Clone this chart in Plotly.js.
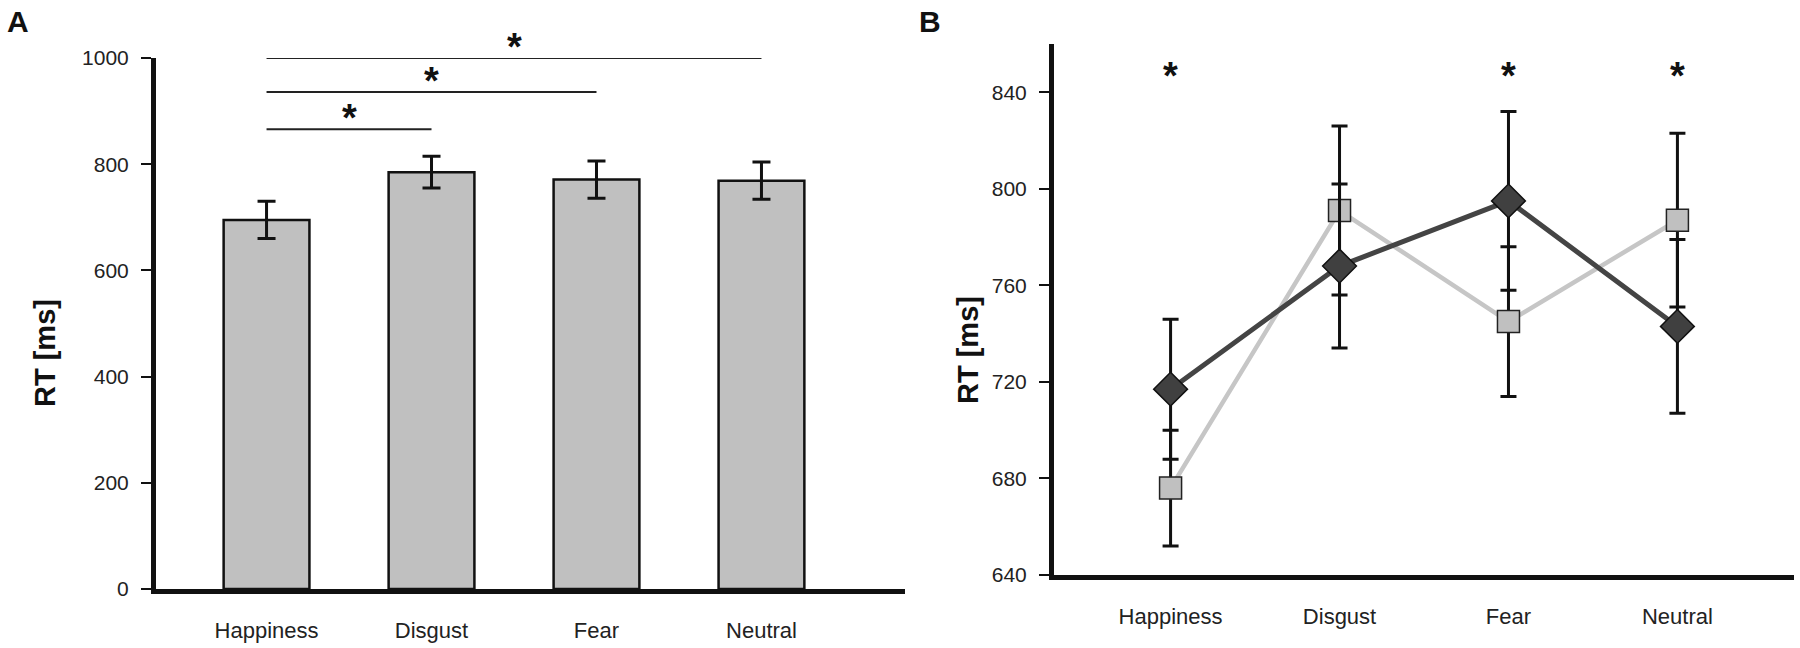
<!DOCTYPE html>
<html>
<head>
<meta charset="utf-8">
<script src="https://cdn.plot.ly/plotly-3.0.1.min.js"></script>
<style>
  html, body { margin: 0; padding: 0; background: #fff; }
  #chart { width: 1800px; height: 648px; }
</style>
</head>
<body>
<div id="chart"></div>
<script>
// Panel A: mean RT per emotion.
const categories = ["Happiness", "Disgust", "Fear", "Neutral"];
const rtMean = [695, 785, 771, 769];
const rtErr = [35, 30, 35, 35];

// Significant pairs in panel A (category index pairs) and bracket levels.
const sigPairs = [[0, 1], [0, 2], [0, 3]];
const sigLevels = [866, 936, 1000];

// Panel B: two conditions per emotion.
const darkMean = [717, 768, 795, 743];
const darkErr = [29, 34, 37, 36];
const lightMean = [676, 791, 745, 787];
const lightErr = [24, 35, 31, 36];
const sigB = ["Happiness", "Fear", "Neutral"];
const sigBLevel = 849;

const font = "Liberation Sans, Arial, sans-serif";

function drawChart() {
  const data = [];

  data.push({
    type: "bar",
    x: categories,
    y: rtMean,
    xaxis: "x",
    yaxis: "y",
    width: 0.52,
    marker: {color: "#c0c0c0", line: {color: "#111", width: 2.5}},
    error_y: {type: "data", array: rtErr, visible: true, color: "#111", thickness: 3, width: 9},
    hoverinfo: "skip"
  });

  // Light series first, so the dark line sits on top.
  data.push({
    type: "scatter",
    mode: "lines+markers",
    x: categories,
    y: lightMean,
    xaxis: "x2",
    yaxis: "y2",
    line: {color: "#c6c6c6", width: 4.5},
    marker: {symbol: "square", size: 22, color: "#c0c0c0", line: {color: "#222", width: 1.5}},
    error_y: {type: "data", array: lightErr, visible: true, color: "#111", thickness: 3, width: 8},
    cliponaxis: false,
    hoverinfo: "skip"
  });
  data.push({
    type: "scatter",
    mode: "lines+markers",
    x: categories,
    y: darkMean,
    xaxis: "x2",
    yaxis: "y2",
    line: {color: "#444444", width: 5},
    marker: {symbol: "diamond", size: 26, color: "#404040", line: {color: "#111", width: 1.5}},
    error_y: {type: "data", array: darkErr, visible: true, color: "#111", thickness: 3, width: 8},
    cliponaxis: false,
    hoverinfo: "skip"
  });

  const shapes = [];
  const annotations = [];

  for (var i = 0; i < sigPairs.length; i++) {
    shapes.push({
      type: "line", xref: "x", yref: "y",
      x0: sigPairs[i][0], x1: sigPairs[i][1],
      y0: sigLevels[i], y1: sigLevels[i],
      line: {color: "#222", width: 2}
    });
    annotations.push({
      xref: "x", yref: "y",
      x: (sigPairs[i][0] + sigPairs[i][1]) / 2, y: sigLevels[i],
      text: "<b>*</b>", showarrow: false, yanchor: "bottom", yshift: -12,
      font: {family: font, size: 38, color: "#111"}
    });
  }

  for (var j = 0; j < sigB.length; j++) {
    annotations.push({
      xref: "x2", yref: "y2",
      x: sigB[j], y: sigBLevel,
      text: "<b>*</b>", showarrow: false, yanchor: "middle", yshift: -5,
      font: {family: font, size: 38, color: "#111"}
    });
  }

  // Panel letters and axis titles.
  annotations.push({xref: "paper", yref: "paper", x: 18 / 1800, y: 1 - 21 / 648, text: "<b>A</b>",
    xanchor: "center", yanchor: "middle", showarrow: false, font: {family: font, size: 30, color: "#111"}});
  annotations.push({xref: "paper", yref: "paper", x: 930 / 1800, y: 1 - 21 / 648, text: "<b>B</b>",
    xanchor: "center", yanchor: "middle", showarrow: false, font: {family: font, size: 30, color: "#111"}});
  annotations.push({xref: "paper", yref: "paper", x: 45 / 1800, y: 1 - 353 / 648, text: "<b>RT [ms]</b>",
    xanchor: "center", yanchor: "middle", textangle: -90, showarrow: false,
    font: {family: font, size: 29, color: "#111"}});
  annotations.push({xref: "paper", yref: "paper", x: 968 / 1800, y: 1 - 350 / 648, text: "<b>RT [ms]</b>",
    xanchor: "center", yanchor: "middle", textangle: -90, showarrow: false,
    font: {family: font, size: 29, color: "#111"}});

  const xBase = {
    showline: true, linewidth: 5, linecolor: "#111",
    ticks: "", showgrid: false, zeroline: false,
    tickfont: {family: font, size: 22, color: "#222"},
    ticklabelstandoff: 18, fixedrange: true
  };
  const yBase = {
    showline: true, linewidth: 5, linecolor: "#111",
    ticks: "outside", ticklen: 10, tickwidth: 2, tickcolor: "#111",
    showgrid: false, zeroline: false,
    tickfont: {family: font, size: 21, color: "#222"},
    ticklabelstandoff: 8, fixedrange: true
  };

  const layout = {
    width: 1800,
    height: 648,
    margin: {l: 0, r: 0, t: 0, b: 0},
    paper_bgcolor: "#fff",
    plot_bgcolor: "#fff",
    showlegend: false,
    xaxis: Object.assign({}, xBase, {domain: [156 / 1800, 905 / 1800], range: [-0.67, 3.87], anchor: "y",
      type: "category"}),
    yaxis: Object.assign({}, yBase, {domain: [1 - 589 / 648, 1 - 58 / 648], range: [0, 1000], dtick: 200,
      anchor: "x"}),
    xaxis2: Object.assign({}, xBase, {domain: [1054 / 1800, 1794 / 1800], range: [-0.69, 3.69], anchor: "y2",
      type: "category"}),
    yaxis2: Object.assign({}, yBase, {domain: [1 - 575 / 648, 1 - 44 / 648], range: [640, 860],
      tickvals: [640, 680, 720, 760, 800, 840], anchor: "x2"}),
    shapes: shapes,
    annotations: annotations
  };

  Plotly.newPlot("chart", data, layout, {staticPlot: true});
}

drawChart();
</script>
</body>
</html>
